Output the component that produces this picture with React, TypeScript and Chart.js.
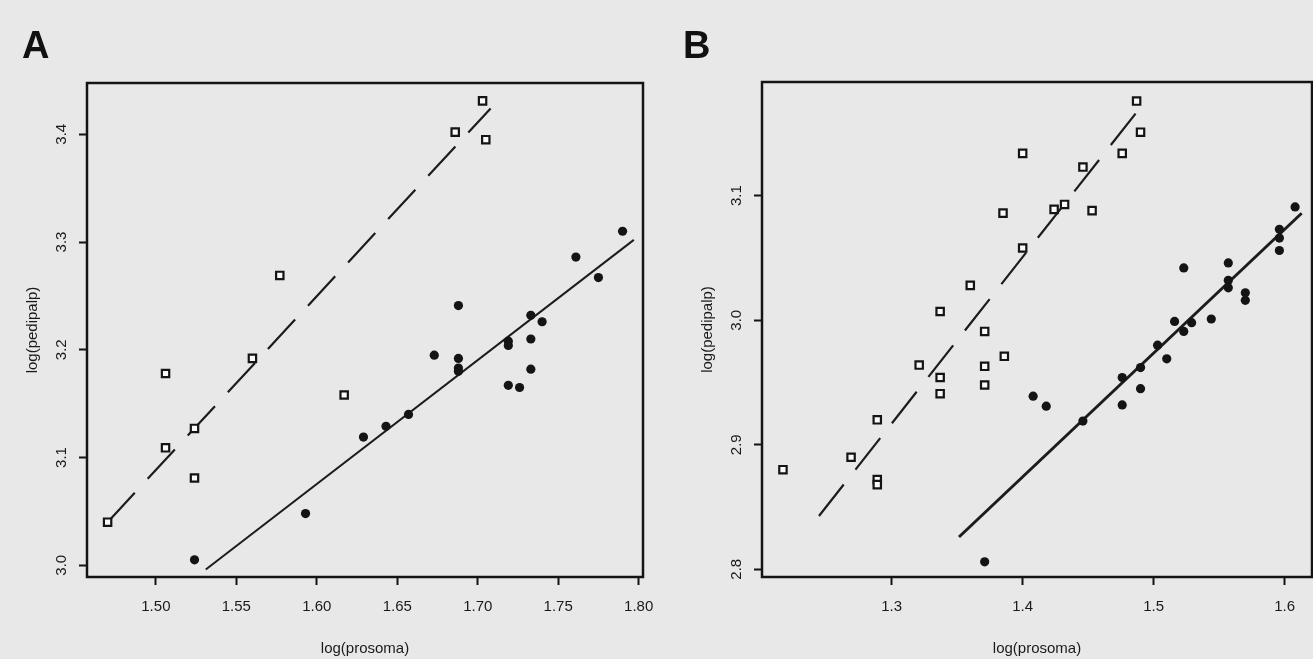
import React, { useEffect, useRef } from "react";
import { Chart, registerables } from "chart.js";

Chart.register(...registerables);

// ---------- Panel A data ----------
const A_SQUARE_X = [1.470, 1.506, 1.506, 1.524, 1.524, 1.560, 1.577, 1.617, 1.686, 1.703, 1.705];
const A_SQUARE_Y = [3.040, 3.178, 3.109, 3.127, 3.081, 3.192, 3.269, 3.158, 3.402, 3.431, 3.395];
const A_FILLED_X = [1.524, 1.593, 1.629, 1.643, 1.657, 1.673, 1.688, 1.688, 1.688, 1.688, 1.719, 1.719, 1.719, 1.726, 1.733, 1.733, 1.733, 1.740, 1.761, 1.775, 1.790];
const A_FILLED_Y = [3.005, 3.048, 3.119, 3.129, 3.140, 3.195, 3.241, 3.192, 3.183, 3.180, 3.208, 3.204, 3.167, 3.165, 3.232, 3.210, 3.182, 3.226, 3.286, 3.267, 3.310];
const A_DASH_X = [1.470, 1.708];
const A_DASH_Y = [3.040, 3.424];
const A_SOLID_X = [1.531, 1.797];
const A_SOLID_Y = [2.996, 3.302];
const A_X_TICKS = [1.50, 1.55, 1.60, 1.65, 1.70, 1.75, 1.80];
const A_Y_TICKS = [3.0, 3.1, 3.2, 3.3, 3.4];

// ---------- Panel B data ----------
const B_SQUARE_X = [1.217, 1.269, 1.289, 1.289, 1.289, 1.321, 1.337, 1.337, 1.337, 1.360, 1.371, 1.371, 1.371, 1.385, 1.386, 1.400, 1.400, 1.424, 1.432, 1.446, 1.453, 1.476, 1.487, 1.490];
const B_SQUARE_Y = [2.880, 2.890, 2.920, 2.872, 2.868, 2.964, 3.007, 2.954, 2.941, 3.028, 2.991, 2.963, 2.948, 3.086, 2.971, 3.134, 3.058, 3.089, 3.093, 3.123, 3.088, 3.134, 3.176, 3.151];
const B_FILLED_X = [1.371, 1.408, 1.418, 1.446, 1.476, 1.476, 1.490, 1.490, 1.503, 1.510, 1.516, 1.523, 1.523, 1.529, 1.544, 1.557, 1.557, 1.557, 1.570, 1.570, 1.596, 1.596, 1.596, 1.608];
const B_FILLED_Y = [2.806, 2.939, 2.931, 2.919, 2.954, 2.932, 2.962, 2.945, 2.980, 2.969, 2.999, 3.042, 2.991, 2.998, 3.001, 3.046, 3.032, 3.026, 3.022, 3.016, 3.073, 3.066, 3.056, 3.091];
const B_DASH_X = [1.2445, 1.4908];
const B_DASH_Y = [2.8428, 3.1721];
const B_SOLID_X = [1.3514, 1.6130];
const B_SOLID_Y = [2.8259, 3.0859];
const B_X_TICKS = [1.3, 1.4, 1.5, 1.6];
const B_Y_TICKS = [2.8, 2.9, 3.0, 3.1];

const X_TITLE = "log(prosoma)";
const Y_TITLE = "log(pedipalp)";

const W = 1313;
const H = 659;
const INK = "#141414";
const BG = "#e8e8e8";
const FONT = '"Liberation Sans", Arial, Helvetica, sans-serif';

const zip = (xs: number[], ys: number[]) => xs.map((x, i) => ({ x, y: ys[i] }));

type PanelCfg = {
  letter: string;
  letterX: number;
  sqX: number[]; sqY: number[];
  fX: number[]; fY: number[];
  dX: number[]; dY: number[];
  sX: number[]; sY: number[];
  xTicks: number[]; yTicks: number[];
  xDec: number; yDec: number;
  xMin: number; xMax: number; yMin: number; yMax: number;
  padLeft: number; axisW: number; padTop: number; padRight: number;
  solidWidth: number;
};

const PANELS: PanelCfg[] = [
  {
    letter: "A", letterX: 22,
    sqX: A_SQUARE_X, sqY: A_SQUARE_Y, fX: A_FILLED_X, fY: A_FILLED_Y,
    dX: A_DASH_X, dY: A_DASH_Y, sX: A_SOLID_X, sY: A_SOLID_Y,
    xTicks: A_X_TICKS, yTicks: A_Y_TICKS, xDec: 2, yDec: 1,
    xMin: 1.4572, xMax: 1.8027, yMin: 2.9891, yMax: 3.4476,
    padLeft: 0, axisW: 87, padTop: 83, padRight: W - 643,
    solidWidth: 2,
  },
  {
    letter: "B", letterX: 683,
    sqX: B_SQUARE_X, sqY: B_SQUARE_Y, fX: B_FILLED_X, fY: B_FILLED_Y,
    dX: B_DASH_X, dY: B_DASH_Y, sX: B_SOLID_X, sY: B_SOLID_Y,
    xTicks: B_X_TICKS, yTicks: B_Y_TICKS, xDec: 1, yDec: 1,
    xMin: 1.2010, xMax: 1.6209, yMin: 2.7938, yMax: 3.1913,
    padLeft: 662, axisW: 100, padTop: 82, padRight: 1,
    solidWidth: 3,
  },
];

function framePlugin(cfg: PanelCfg) {
  return {
    id: "rframe" + cfg.letter,
    afterDraw(chart: any) {
      const { ctx, chartArea: a, scales } = chart;
      ctx.save();
      ctx.strokeStyle = INK;
      ctx.lineWidth = 2.5;
      ctx.strokeRect(a.left, a.top, a.right - a.left, a.bottom - a.top);

      ctx.fillStyle = "#1a1a1a";
      ctx.font = `15px ${FONT}`;
      ctx.textAlign = "center";
      ctx.textBaseline = "middle";
      for (const t of scales.x.ticks) {
        const px = scales.x.getPixelForValue(t.value);
        ctx.fillText(Number(t.value).toFixed(cfg.xDec), px, a.bottom + 30);
      }
      for (const t of scales.y.ticks) {
        const py = scales.y.getPixelForValue(t.value);
        ctx.save();
        ctx.translate(a.left - 25, py);
        ctx.rotate(-Math.PI / 2);
        ctx.fillText(Number(t.value).toFixed(cfg.yDec), 0, 0);
        ctx.restore();
      }
      ctx.fillText(X_TITLE, (a.left + a.right) / 2, a.bottom + 72);
      ctx.save();
      ctx.translate(a.left - 54, (a.top + a.bottom) / 2);
      ctx.rotate(-Math.PI / 2);
      ctx.fillText(Y_TITLE, 0, 0);
      ctx.restore();

      // panel letter
      ctx.font = `bold 38px ${FONT}`;
      ctx.textAlign = "left";
      ctx.textBaseline = "alphabetic";
      ctx.fillStyle = "#111";
      ctx.fillText(cfg.letter, cfg.letterX, 58);
      ctx.restore();
    },
  };
}

function Panel({ cfg }: { cfg: PanelCfg }) {
  const ref = useRef<HTMLCanvasElement | null>(null);
  useEffect(() => {
    if (!ref.current) return;
    const tickGrid = {
      display: true,
      drawOnChartArea: false,
      drawTicks: true,
      tickLength: 8,
      tickWidth: 2,
      tickColor: INK,
      color: INK,
    };
    const chart = new Chart(ref.current, {
      type: "scatter",
      data: {
        datasets: [
          {
            label: "filled",
            data: zip(cfg.fX, cfg.fY),
            pointStyle: "circle",
            pointRadius: 4.6,
            backgroundColor: INK,
            borderColor: INK,
            borderWidth: 0,
            showLine: false,
          },
          {
            label: "open",
            data: zip(cfg.sqX, cfg.sqY),
            pointStyle: "rect",
            pointRadius: 5.2,
            backgroundColor: "#fafafa",
            borderColor: INK,
            borderWidth: 2.2,
            showLine: false,
          },
          {
            label: "fit filled",
            data: zip(cfg.sX, cfg.sY),
            showLine: true,
            pointRadius: 0,
            borderColor: "#1c1c1c",
            borderWidth: cfg.solidWidth,
            fill: false,
          },
          {
            label: "fit open",
            data: zip(cfg.dX, cfg.dY),
            showLine: true,
            pointRadius: 0,
            borderColor: "#1c1c1c",
            borderWidth: 2.2,
            borderDash: [40, 19],
            fill: false,
          },
        ],
      } as any,
      options: {
        animation: false,
        responsive: false,
        events: [],
        layout: {
          autoPadding: false,
          padding: { left: cfg.padLeft, top: cfg.padTop, right: cfg.padRight, bottom: 0 },
        },
        plugins: { legend: { display: false }, tooltip: { enabled: false }, title: { display: false } },
        scales: {
          x: {
            type: "linear",
            min: cfg.xMin,
            max: cfg.xMax,
            grid: tickGrid,
            border: { display: false },
            ticks: { display: false },
            afterBuildTicks: (s: any) => { s.ticks = cfg.xTicks.map((v) => ({ value: v })); },
            afterFit: (s: any) => { s.height = H - 577; },
          },
          y: {
            type: "linear",
            min: cfg.yMin,
            max: cfg.yMax,
            grid: tickGrid,
            border: { display: false },
            ticks: { display: false },
            afterBuildTicks: (s: any) => { s.ticks = cfg.yTicks.map((v) => ({ value: v })); },
            afterFit: (s: any) => { s.width = cfg.axisW; },
          },
        },
      } as any,
      plugins: [framePlugin(cfg)],
    });
    return () => chart.destroy();
  }, [cfg]);
  return (
    <canvas
      ref={ref}
      width={W}
      height={H}
      style={{ position: "absolute", left: 0, top: 0, width: W, height: H }}
    />
  );
}

export default function App() {
  return (
    <div
      style={{
        position: "fixed",
        left: 0,
        top: 0,
        width: W,
        height: H,
        background: BG,
        overflow: "hidden",
      }}
    >
      {PANELS.map((p) => (
        <Panel key={p.letter} cfg={p} />
      ))}
    </div>
  );
}
